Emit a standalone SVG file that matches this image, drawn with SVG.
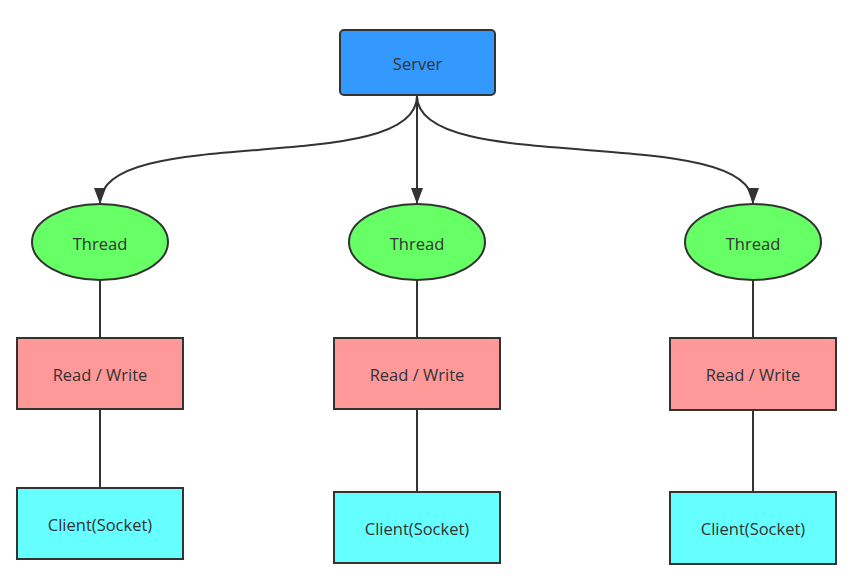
<svg xmlns="http://www.w3.org/2000/svg" width="862" height="582" viewBox="0 0 862 582">
<defs>
<style>
.lbl{font-family:"Open Sans","Noto Sans","Liberation Sans",sans-serif;font-size:16.5px;fill:#333;text-anchor:middle;dominant-baseline:central}
.edge{fill:none;stroke:#333;stroke-width:2}
.thread{fill:#66FF66;stroke:#333;stroke-width:2}
.rw{fill:#FF9999;stroke:#333;stroke-width:2}
.client{fill:#66FFFF;stroke:#333;stroke-width:2}
</style>
<marker id="arr" viewBox="0 0 16 12" refX="15" refY="6" markerWidth="8" markerHeight="6" orient="auto" markerUnits="strokeWidth">
<path d="M0,0 L16,6 L0,12 Z" fill="#333"/>
</marker>
</defs>
<rect width="862" height="582" fill="#fff"/>
<g id="connectors">
<path class="edge" marker-end="url(#arr)" d="M417,96 C417,178 100,122 100,203"/>
<path class="edge" marker-end="url(#arr)" d="M417,96 L417,203"/>
<path class="edge" marker-end="url(#arr)" d="M417,96 C417,178 753,122 753,203"/>
<path class="edge" d="M100,280 V338 M100,409 V488"/>
<path class="edge" d="M417,280 V338 M417,409 V492"/>
<path class="edge" d="M753,280 V338 M753,410 V492"/>
</g>
<g id="server">
<rect x="340" y="30" width="155" height="65" rx="4" fill="#3399FF" stroke="#333" stroke-width="2"/>
<text class="lbl" x="417.5" y="63">Server</text>
</g>
<g id="thread1"><ellipse class="thread" cx="100" cy="242" rx="68" ry="38"/><text class="lbl" x="100" y="243">Thread</text></g>
<g id="thread2"><ellipse class="thread" cx="417" cy="242" rx="68" ry="38"/><text class="lbl" x="417" y="243">Thread</text></g>
<g id="thread3"><ellipse class="thread" cx="753" cy="242" rx="68" ry="38"/><text class="lbl" x="753" y="243">Thread</text></g>
<g id="rw1"><rect class="rw" x="17" y="338" width="166" height="71"/><text class="lbl" x="100" y="374">Read / Write</text></g>
<g id="rw2"><rect class="rw" x="334" y="338" width="166" height="71"/><text class="lbl" x="417" y="374">Read / Write</text></g>
<g id="rw3"><rect class="rw" x="670" y="338" width="166" height="72"/><text class="lbl" x="753" y="374">Read / Write</text></g>
<g id="client1"><rect class="client" x="17" y="488" width="166" height="71"/><text class="lbl" x="100" y="524">Client(Socket)</text></g>
<g id="client2"><rect class="client" x="334" y="492" width="166" height="71"/><text class="lbl" x="417" y="528">Client(Socket)</text></g>
<g id="client3"><rect class="client" x="670" y="492" width="166" height="72"/><text class="lbl" x="753" y="528">Client(Socket)</text></g>
</svg>
